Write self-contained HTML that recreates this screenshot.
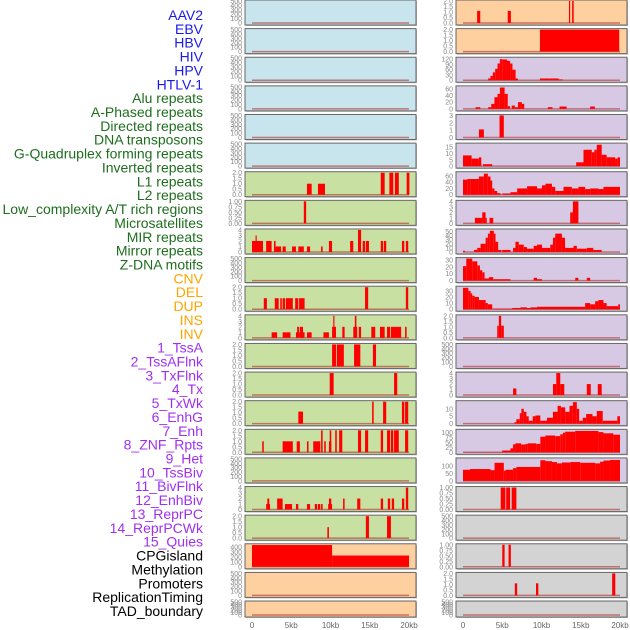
<!DOCTYPE html>
<html><head><meta charset="utf-8">
<style>
html,body{margin:0;padding:0;background:#fff;}
svg{display:block;font-family:"Liberation Sans",sans-serif;}
</style></head>
<body>
<svg id="chart" width="630" height="630" viewBox="0 0 630 630"></svg>
<script>
const labels=["AAV2","EBV","HBV","HIV","HPV","HTLV-1","Alu repeats","A-Phased repeats","Directed repeats","DNA transposons","G-Quadruplex forming repeats","Inverted repeats","L1 repeats","L2 repeats","Low_complexity A/T rich regions","Microsatellites","MIR repeats","Mirror repeats","Z-DNA motifs","CNV","DEL","DUP","INS","INV","1_TssA","2_TssAFlnk","3_TxFlnk","4_Tx","5_TxWk","6_EnhG","7_Enh","8_ZNF_Rpts","9_Het","10_TssBiv","11_BivFlnk","12_EnhBiv","13_ReprPC","14_ReprPCWk","15_Quies","CPGisland","Methylation","Promoters","ReplicationTiming","TAD_boundary"];
const labelGroups=[6,13,5,15,5];
const groupColors=["#1a1aee","#1e6e1e","#ffa500","#a030f0","#000000"];
const xTicks=[0,5,10,15,20];
const xTickLabels=["0","5kb","10kb","15kb","20kb"];
const leftBg=["b","b","b","b","b","b","g","g","g","g","g","g","g","g","g","g","g","g","g","o","o","o"];
const rightBg=["o","o","p","p","p","p","p","p","p","p","p","p","p","p","p","p","p","y","y","y","y","y"];
const leftScale=["500","500","500","500","500","500","2","1","4","500","2","4","2","2","2","2","500","4","2","m","500","500"];
const rightScale=["2","2","r2","r3","3","r5","r6","4","r8","r9","r10","2","500","4","r14","r15","r16","1","500","1","2","500"];
const L06=[[7.0,7.6,1],[8.4,9.3,1],[16.4,16.9,2],[17.5,18.0,2],[18.2,18.7,2],[19.7,20.05,2]];
const L07=[[6.6,6.9,1]];
const L08=[[0,1.4,2],[0.45,0.6,3],[1.8,2.5,2],[2.8,3.0,2],[3.0,3.7,1],[3.9,4.3,1],[5.1,5.6,1],[5.9,6.6,1],[7.0,7.4,1],[8.8,9.0,1],[9.8,10.2,2],[12.5,12.9,2],[13.5,13.9,4],[14.1,14.4,2],[14.5,14.9,2],[16.4,16.7,2],[16.8,17.1,2],[19.1,19.4,2],[19.6,19.9,2]];
const L10=[[1.5,1.9,1],[2.9,3.4,1],[3.6,3.8,1],[3.9,4.2,1],[4.3,5.2,1],[5.5,5.9,1],[6.0,6.7,1],[14.4,14.8,2],[19.6,19.9,2]];
const L11=[[2.5,3.2,1],[3.9,4.9,1],[5.6,5.9,1],[5.75,6.0,2],[6.0,6.7,1],[6.1,6.5,2],[7.0,7.6,1],[9.1,9.8,1],[10.2,10.7,2],[10.35,10.5,4],[11.5,11.8,2],[12.9,13.4,2],[13.1,13.3,4],[13.6,13.9,2],[15.2,15.7,2],[16.3,16.9,2],[17.2,17.6,2],[17.7,18.6,2],[18.6,19.0,2],[19.5,19.7,2]];
const L12=[[10.2,10.7,2],[10.8,11.7,2],[13.0,13.8,2],[15.4,15.8,2]];
const L13=[[9.9,10.4,2],[18.1,18.5,2]];
const L14=[[5.9,6.5,1.1],[15.3,15.5,2],[16.7,17.1,2],[19.1,19.4,2],[19.5,19.9,2]];
const L15=[[1.3,1.5,1],[3.9,5.2,1],[5.7,6.1,1],[7.0,7.2,1],[7.8,8.7,1],[8.8,9.0,2],[9.2,9.4,1],[9.8,10.1,1],[9.9,10.1,2],[10.6,10.8,2],[11.1,11.5,2],[13.5,13.9,2],[14.4,14.8,2],[16.4,16.7,2],[17.2,17.6,2],[17.7,18.0,2],[18.1,18.7,2],[19.5,19.9,2]];
const L17=[[1.8,2.3,1],[1.95,2.2,2],[3.2,3.9,2],[4.2,5.1,1],[5.6,5.9,1],[7.0,7.4,1],[8.0,8.3,1],[8.4,8.7,1],[8.8,9.0,1],[9.7,10.2,1],[9.8,10.1,2],[11.6,11.8,2],[13.4,13.8,2],[16.4,16.7,2],[17.3,17.6,2],[17.8,18.1,2],[19.1,19.4,2],[19.6,19.9,4]];
const L18=[[9.6,9.8,1],[14.5,14.9,2],[17.2,17.7,2]];
const L19=[[0,10.2,445],[10.2,20,230]];
const R00=[[1.8,2.2,1.1],[5.7,6.1,1.1],[13.5,13.65,2],[13.9,14.1,2]];
const R01=[[9.8,19.9,2]];
const R02=[[3.2,3.5,10],[3.5,3.8,25],[3.8,4.1,45],[4.1,4.4,65],[4.4,4.7,95],[4.7,5.0,120],[5.0,5.6,118],[5.6,6.0,110],[6.0,6.3,95],[6.3,6.7,60],[6.7,7.0,10],[9.8,11.0,10],[11.0,12.2,10],[12.2,12.7,5]];
const R03=[[1.6,2.2,5],[3.2,3.6,5],[3.6,4.0,15],[4.0,4.4,35],[4.4,4.7,45],[4.7,5.3,64],[5.3,5.7,45],[5.7,6.0,8],[6.2,6.6,10],[6.6,7.0,5],[7.0,7.5,20],[7.5,7.8,15],[10.8,11.4,5],[12.3,13.2,7],[16.2,16.8,7]];
const R04=[[2.03,2.66,1.1],[4.65,5.2,3]];
const R05=[[0,1.1,8.5],[1.1,2.03,6],[2.03,2.33,7],[2.54,3.72,1.5],[14.42,15.35,3],[15.35,16.4,13],[16.4,16.74,11],[16.74,17.04,13],[17.04,17.67,17],[17.67,18.3,9],[18.3,19.37,7],[19.37,19.7,6],[19.7,20,7]];
const R06=[[0,0.55,48],[0.55,0.97,50],[0.97,2.03,50],[2.03,2.66,58],[2.66,3.17,67],[3.17,3.5,58],[3.5,3.72,45],[3.72,4.0,20],[4.0,4.36,12],[4.36,4.78,5],[5.0,6.05,4],[6.05,6.9,8],[6.9,8.16,20],[8.16,9.43,27],[9.43,10.06,20],[10.06,10.5,30],[10.5,11.33,35],[11.33,11.75,25],[11.75,12.8,12],[12.8,13.87,25],[13.87,14.7,20],[14.7,15.56,25],[15.56,16.2,18],[16.2,17.25,20],[17.25,17.89,18],[17.89,20,25]];
const R07=[[1.52,2.45,1],[2.45,2.88,2],[2.88,3.0,1],[3.38,3.85,1],[13.66,14.0,2],[14.0,14.7,4]];
const R08=[[0,0.25,3],[1.4,1.82,5],[1.82,2.24,10],[2.24,2.88,20],[2.88,3.17,35],[3.17,3.42,45],[3.42,3.93,52],[3.93,4.14,45],[4.14,4.48,25],[4.48,4.9,5],[4.99,6.05,5],[6.38,6.68,10],[6.68,7.1,25],[7.1,7.74,18],[7.74,8.16,12],[8.16,9.0,8],[9.0,9.43,15],[9.43,10.06,18],[10.06,11.12,10],[11.12,11.46,18],[11.46,11.75,35],[11.75,12.6,45],[12.6,13.0,35],[13.0,14.08,10],[14.08,14.5,15],[14.5,15.77,8],[15.77,16.6,10],[16.6,17.04,5],[17.04,17.67,5]];
const R09=[[0,0.42,21],[0.42,1.18,32],[1.18,1.82,28],[1.82,2.16,22],[2.16,2.45,15],[2.45,2.75,12],[2.75,3.3,3],[3.3,3.85,5],[3.85,6.05,2],[9.0,9.43,4],[9.43,10.06,2],[14.3,14.7,4],[15.77,16.2,4]];
const R10=[[0,0.68,35],[0.68,0.97,30],[0.97,1.18,26],[1.18,1.48,22],[1.48,2.03,20],[2.03,2.88,15],[2.88,3.17,10],[3.17,3.72,8],[3.72,6.26,1],[6.26,7.31,2],[7.31,8.16,3],[8.16,8.58,2],[8.58,9.43,3],[9.43,12.8,4],[12.8,15.56,4],[15.56,16.2,10],[16.2,16.83,8],[16.83,17.25,13],[17.25,17.89,15],[17.89,18.3,10],[18.3,19.79,5],[19.79,20,8]];
const R11=[[4.36,4.57,1.1],[4.57,4.86,2],[4.86,5.2,1.1]];
const R13=[[6.38,6.8,1.2],[11.46,11.88,2],[11.88,12.39,4],[12.39,12.9,2],[15.77,16.28,2],[17.17,17.67,2]];
const R14=[[6.55,6.8,1],[6.8,7.23,3],[7.23,7.44,7],[7.44,7.74,10],[7.74,8.08,8],[8.08,8.37,5],[8.37,8.88,2],[8.88,9.22,5],[9.22,9.85,5.5],[9.85,10.7,2],[10.7,11.46,4],[11.46,12.05,8],[12.05,12.47,12],[12.47,13.02,11],[13.02,13.57,8],[13.57,14.0,12],[14.0,14.5,14.5],[14.5,14.8,10],[14.8,15.26,2],[15.26,15.69,4],[15.69,16.49,6.5],[16.49,17.04,5],[17.04,17.8,8.5],[17.8,19.66,2],[19.66,20,5]];
const R15=[[0,4.99,1],[4.99,6.05,9],[6.05,6.38,20],[6.38,6.68,40],[6.68,7.4,45],[7.4,7.95,39],[7.95,8.25,42],[8.25,9.34,45],[9.34,9.85,42],[9.85,10.5,78],[10.5,11.75,84],[11.75,12.39,81],[12.39,12.73,90],[12.73,13.02,98],[13.02,14.29,103],[14.29,17.25,107],[17.25,17.89,101],[17.89,19.15,95],[19.15,20,88]];
const R16=[[0,0.89,75],[0.89,3.51,80],[3.51,4.02,72],[4.02,5.2,122],[5.2,5.41,68],[5.41,6.38,75],[6.38,6.8,86],[6.8,9.85,94],[9.85,10.5,139],[10.5,11.33,133],[11.33,11.97,127],[11.97,12.6,118],[12.6,13.66,124],[13.66,14.93,127],[14.93,16.83,122],[16.83,17.46,118],[17.46,17.89,129],[17.89,18.73,137],[18.73,20,141]];
const R17=[[4.8,5.4,1],[5.5,6.0,1],[6.2,6.8,1]];
const R19=[[5.0,5.3,1],[5.8,6.1,1]];
const R20=[[6.6,6.9,1.1],[9.3,9.6,1.1],[19.0,19.4,2]];
const leftData={6:L06,7:L07,8:L08,10:L10,11:L11,12:L12,13:L13,14:L14,15:L15,17:L17,18:L18,19:L19};
const rightData={0:R00,1:R01,2:R02,3:R03,4:R04,5:R05,6:R06,7:R07,8:R08,9:R09,10:R10,11:R11,13:R13,14:R14,15:R15,16:R16,17:R17,19:R19,20:R20};

const scales={
 "500":{max:500,t:[0,100,200,300,400,500],f:0},
 "2":{max:2,t:[0,0.5,1,1.5,2],f:1},
 "1":{max:1,t:[0,0.25,0.5,0.75,1],f:2},
 "4":{max:4,t:[0,1,2,3,4],f:0},
 "3":{max:3,t:[0,1,2,3],f:0},
 "m":{max:450,t:[0,100,200,300,400],f:0},
 "r2":{max:125,t:[0,30,60,90,120],f:0},
 "r3":{max:66,t:[0,20,40,60],f:0},
 "r5":{max:17.5,t:[0,5,10,15],f:0},
 "r6":{max:70,t:[0,20,40,60],f:0},
 "r8":{max:54,t:[0,10,20,30,40,50],f:0},
 "r9":{max:32,t:[0,10,20,30],f:0},
 "r10":{max:36,t:[0,10,20,30],f:0},
 "r14":{max:14.8,t:[0,5,10],f:0},
 "r15":{max:110,t:[0,25,50,75,100],f:0},
 "r16":{max:148,t:[0,50,100],f:0}
};
const bgColors={b:"#c8e4ec",g:"#c8e1a2",o:"#fecf9f",p:"#d7c8e3",y:"#d3d3d3"};

const NS="http://www.w3.org/2000/svg";
const svg=document.getElementById("chart");
function mk(tag,attrs,parent){const e=document.createElementNS(NS,tag);for(const k in attrs)e.setAttribute(k,attrs[k]);(parent||svg).appendChild(e);return e;}

// labels
let gi=0,cnt=0;
labels.forEach((t,i)=>{
  while(cnt>=labelGroups[gi]){cnt=0;gi++;}
  cnt++;
  const el=mk("text",{x:203,y:15+i*13.86+5,"text-anchor":"end","font-size":"14",fill:groupColors[gi]});
  el.textContent=t;
  
  
});

function drawPanel(col,row,bgKey,scaleKey,data){
  const px=col===0?245:456, pw=171;
  const x0=col===0?252:463, x20=col===0?409:620;
  const top=row*28.62, h=row===21?16:25;
  const sc=scales[scaleKey];
  const g=mk("g",{});
  
  
  const shadow=mk("rect",{x:px+1,y:top+1,width:pw,height:h,fill:"#bbb"},g);
  
  
  const bg=mk("rect",{x:px,y:top,width:pw,height:h,fill:bgColors[bgKey],stroke:"#666","stroke-width":1},g);
  
  
  const xs=v=>x0+(x20-x0)*v/20;
  const ybase=top+h-2, ytop=top+1;
  const ys=v=>ybase-(ybase-ytop)*v/sc.max;
  sc.t.forEach(v=>{
    const tl=mk("text",{x:px-3,y:ys(v)+2.5,"text-anchor":"end","font-size":"7",fill:"#888"},g);
    tl.textContent=v.toFixed(sc.f);
    
    
  });
  const bl=mk("line",{x1:xs(0),x2:xs(20),y1:ybase,y2:ybase,stroke:"#b03030","stroke-opacity":0.6,"stroke-width":1.5},g);
  
  
  (data||[]).forEach(d=>{
    const xa=xs(d[0]), xb=xs(d[1]);
    const r=mk("rect",{x:xa,y:ys(d[2]),width:Math.max(1.2,xb-xa),height:ybase-ys(d[2]),fill:"#ff0000"},g);
    
    
  });
}
for(let r=0;r<22;r++){
  drawPanel(0,r,leftBg[r],leftScale[r],leftData[r]);
  drawPanel(1,r,rightBg[r],rightScale[r],rightData[r]);
}
[[252,409],[463,620]].forEach((c,ci)=>{
  xTicks.forEach((v,i)=>{
    const t=mk("text",{x:c[0]+(c[1]-c[0])*v/20,y:628,"text-anchor":"middle","font-size":"8",fill:"#666"});
    t.textContent=xTickLabels[i];
    
    
  });
});
</script>
</body></html>
